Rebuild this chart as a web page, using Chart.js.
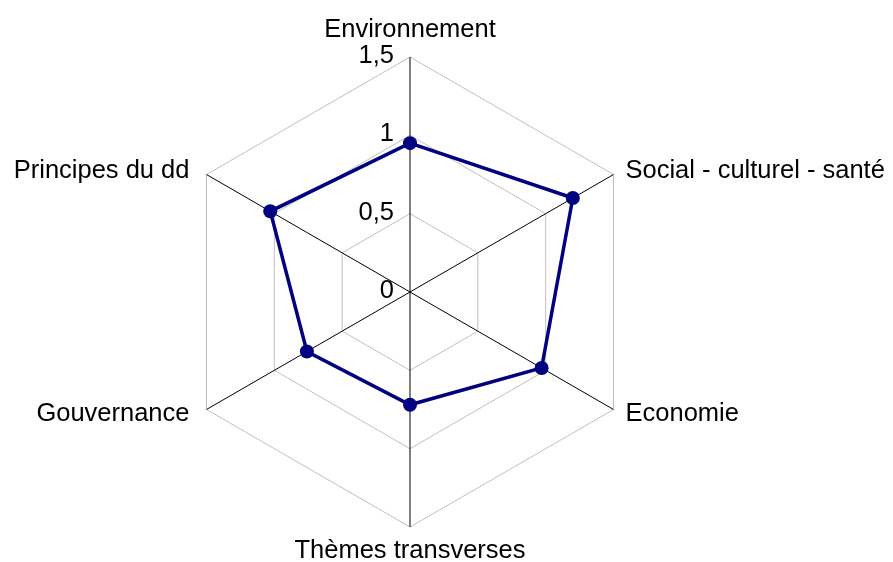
<!DOCTYPE html>
<html>
<head>
<meta charset="utf-8">
<script src="https://cdn.jsdelivr.net/npm/chart.js@4.4.1/dist/chart.umd.min.js"></script>
<style>
    body { margin: 0; background: #ffffff; }
    canvas { display: block; }
</style>
</head>
<body>
<canvas id="radarChart" width="893" height="562"></canvas>
<script>
// Chart data
const categories = ['Environnement', 'Social - culturel - santé', 'Economie', 'Thèmes transverses', 'Gouvernance', 'Principes du dd'];
const scores = [0.95, 1.2, 0.97, 0.72, 0.76, 1.03];
const scaleMin = 0;
const scaleMax = 1.5;
const scaleStep = 0.5;

const fontFamily = '"Liberation Sans", Arial, sans-serif';
const fontSize = 25.5;

// Draws the axis titles and the tick values the way the original chart does
const radarLabels = {
    id: 'radarLabels',
    afterDraw(chart) {
        const scale = chart.scales.r;
        const ctx = chart.ctx;
        ctx.save();
        ctx.fillStyle = '#000000';
        ctx.font = fontSize + 'px ' + fontFamily;

        // tick values, right aligned left of the vertical axis
        ctx.textAlign = 'right';
        ctx.textBaseline = 'middle';
        scale.ticks.forEach(tick => {
            const dist = scale.getDistanceFromCenterForValue(tick.value);
            const text = String(tick.value).replace('.', ',');
            ctx.fillText(text, scale.xCenter - 16, scale.yCenter - dist - 1);
        });

        // category labels
        ctx.textBaseline = 'alphabetic';
        categories.forEach((label, i) => {
            const pos = scale.getPointPosition(i, scale.drawingArea);
            const dx = pos.x - scale.xCenter;
            const dy = pos.y - scale.yCenter;
            let x = pos.x;
            let y = pos.y;
            if (Math.abs(dx) < 1) {
                ctx.textAlign = 'center';
                y = dy < 0 ? pos.y - 20 : pos.y + 31;
            } else {
                ctx.textAlign = dx > 0 ? 'left' : 'right';
                x = dx > 0 ? pos.x + 12 : pos.x - 17;
                y = dy < 0 ? pos.y + 3 : pos.y + 11;
            }
            ctx.fillText(label, x, y);
        });
        ctx.restore();
    }
};

const ctx = document.getElementById('radarChart').getContext('2d');
new Chart(ctx, {
    type: 'radar',
    data: {
        labels: categories,
        datasets: [{
            label: 'Score',
            data: scores,
            borderColor: '#000080',
            backgroundColor: '#000080',
            borderWidth: 3.5,
            fill: false,
            pointRadius: 7,
            pointHoverRadius: 7,
            pointBackgroundColor: '#000080',
            pointBorderColor: '#000080',
            pointBorderWidth: 0
        }]
    },
    options: {
        responsive: false,
        animation: false,
        layout: {
            padding: { left: 175, right: 248, top: 57, bottom: 35 }
        },
        plugins: {
            legend: { display: false },
            tooltip: { enabled: false }
        },
        elements: {
            line: { tension: 0 }
        },
        scales: {
            r: {
                min: scaleMin,
                max: scaleMax,
                beginAtZero: true,
                ticks: {
                    stepSize: scaleStep,
                    display: false
                },
                pointLabels: { display: false },
                grid: {
                    color: '#c0c0c0',
                    lineWidth: 1
                },
                angleLines: {
                    color: '#000000',
                    lineWidth: 1
                }
            }
        }
    },
    plugins: [radarLabels]
});
</script>
</body>
</html>
